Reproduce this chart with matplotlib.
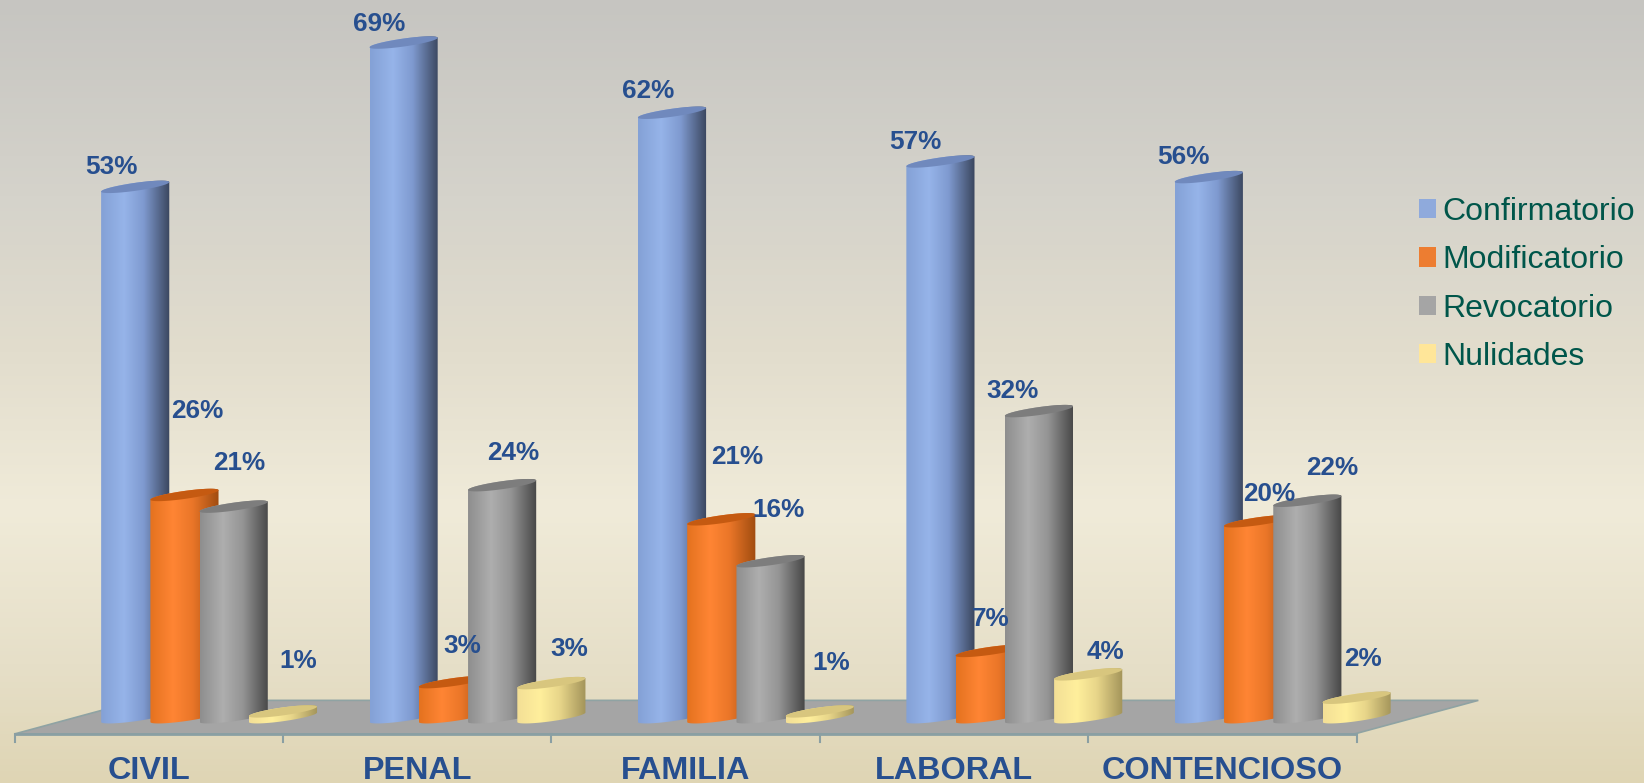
import numpy as np
import matplotlib
matplotlib.use('Agg')
import matplotlib.pyplot as plt
from matplotlib.colors import LinearSegmentedColormap
from matplotlib.patches import Polygon, Patch

plt.rcParams['font.family'] = ['Liberation Sans', 'DejaVu Sans']

categories = ['CIVIL', 'PENAL', 'FAMILIA', 'LABORAL', 'CONTENCIOSO']
series_names = ['Confirmatorio', 'Modificatorio', 'Revocatorio', 'Nulidades']

# bar heights
confirmatorio = [54.4, 69.2, 62.0, 57.0, 55.4]
modificatorio = [22.8, 3.6, 20.3, 6.8, 20.1]
revocatorio = [21.6, 23.8, 16.0, 31.4, 22.2]
nulidades = [0.6, 3.5, 0.6, 4.4, 2.0]

# printed labels
conf_labels = ['53%', '69%', '62%', '57%', '56%']
modi_labels = ['26%', '3%', '21%', '7%', '20%']
revo_labels = ['21%', '24%', '16%', '32%', '22%']
nuli_labels = ['1%', '3%', '1%', '4%', '2%']

# label centres in the 1568 wide picture
conf_xy = [(106, 159), (362, 23), (618, 87), (873, 135), (1129, 150)]
modi_xy = [(188, 392), (441, 616), (703, 436), (945, 590), (1211, 471)]
revo_xy = [(228, 442), (490, 432), (743, 486), (966, 373), (1271, 446)]
nuli_xy = [(284, 630), (543, 619), (793, 632), (1054, 622), (1300, 629)]

W, H = 1644, 783
K = W / 1568
PX_PER_PCT = 9.75
BASE_PX = 722
CAT_PX = 256 * K
X0_PX = 142 * K

# left, light, middle, right
body_colors = [
    ['#84a1d6', '#96b4e9', '#7f9ad0', '#3a465e'],
    ['#e4721f', '#ff8534', '#ea7628', '#a04c10'],
    ['#8e8e8e', '#aeaeae', '#959595', '#474747'],
    ['#f3df96', '#ffef9c', '#e8d68a', '#a3945a'],
]
top_colors = ['#7089bd', '#c55a11', '#7d7d7d', '#d8c67e']
legend_colors = ['#8faadc', '#ed7d31', '#a5a5a5', '#ffe699']
TEXT_BLUE = '#274f8f'
LEGEND_TEXT = '#00564a'

fig = plt.figure(figsize=(W / 100, H / 100), dpi=100)
ax = fig.add_axes([0, 0, 1, 1])
ax.set_axis_off()
xlim = (-X0_PX / CAT_PX, (W - X0_PX) / CAT_PX)
ylim = ((BASE_PX - H) / PX_PER_PCT, BASE_PX / PX_PER_PCT)

# background
bg = LinearSegmentedColormap.from_list('bg', [
    (0.0, '#c6c5c1'), (0.25, '#d5d3cb'), (0.45, '#e2ddcd'),
    (0.65, '#f0ebd9'), (0.85, '#e6dfc8'), (1.0, '#dfd5b4')])
ax.imshow(np.linspace(0, 1, 256).reshape(-1, 1), cmap=bg, aspect='auto',
          extent=(xlim[0], xlim[1], ylim[0], ylim[1]), origin='upper', zorder=0)


def px_to_data(x, y):
    return xlim[0] + x / W * (xlim[1] - xlim[0]), ylim[1] - y / H * (ylim[1] - ylim[0])


# floor and axis line
floor = [px_to_data(14 * K, 700 * K), px_to_data(132 * K, 668 * K),
         px_to_data(1410 * K, 668 * K), px_to_data(1292 * K, 700 * K)]
ax.add_patch(Polygon(floor, closed=True, fc='#a5a5a5', ec='#8fa3a3', lw=1.2, zorder=1))
ax.plot([floor[0][0], floor[3][0]], [floor[0][1], floor[3][1]], color='#8a9fa3', lw=2, zorder=2)
tick_y0 = floor[0][1]
tick_y1 = px_to_data(0, 708 * K)[1]
for i in range(len(categories) + 1):
    ax.plot([i - 0.5, i - 0.5], [tick_y0, tick_y1], color='#8a9fa3', lw=1.5, zorder=2)

# cylinders
half_w = 0.5 * 65 * K / CAT_PX
tilt = 9.5 / PX_PER_PCT
bulge = 4 / PX_PER_PCT
t = np.linspace(0, 2 * np.pi, 121)
all_series = [confirmatorio, modificatorio, revocatorio, nulidades]
z = 3
for i in range(len(categories)):
    for j, values in enumerate(all_series):
        value = values[i]
        cx = i - 0.051 + 0.1835 * j
        ex = cx + half_w * np.cos(t)
        tilt_y = tilt / 2 * (1 + np.cos(t))
        up = bulge * np.sin(t)
        upper = t <= np.pi
        # outline: upper arc of the top, lower arc of the base
        top_x, top_y = ex[upper], value + tilt_y[upper] + up[upper]
        bot_x, bot_y = ex[~upper], tilt_y[~upper] + up[~upper]
        outline = np.column_stack([np.r_[top_x, bot_x], np.r_[top_y, bot_y]])
        clip = Polygon(outline, closed=True, fc='none', ec='none', transform=ax.transData)
        ax.add_patch(clip)
        cmap = LinearSegmentedColormap.from_list('c%d' % j, [
            (0.0, body_colors[j][0]), (0.33, body_colors[j][1]),
            (0.62, body_colors[j][2]), (1.0, body_colors[j][3])])
        im = ax.imshow(np.linspace(0, 1, 128).reshape(1, -1), cmap=cmap, aspect='auto',
                       extent=(cx - half_w, cx + half_w, -2, value + 3),
                       interpolation='bilinear', zorder=z)
        im.set_clip_path(clip)
        ax.add_patch(Polygon(np.column_stack([ex, value + tilt_y + up]), closed=True,
                             fc=top_colors[j], ec='none', zorder=z + 0.5))
        z += 1

# value labels
for labels, places in zip([conf_labels, modi_labels, revo_labels, nuli_labels],
                          [conf_xy, modi_xy, revo_xy, nuli_xy]):
    for s, (x, y) in zip(labels, places):
        dx, dy = px_to_data(x * K, y * K)
        ax.text(dx, dy, s, color=TEXT_BLUE, fontsize=18.8, fontweight='bold',
                ha='center', va='center', zorder=100)

# category labels
cat_y = px_to_data(0, 735 * K)[1]
for i, name in enumerate(categories):
    ax.text(i, cat_y, name, color=TEXT_BLUE, fontsize=23.3, fontweight='bold',
            ha='center', va='center', zorder=100)

ax.set_xlim(xlim)
ax.set_ylim(ylim)

handles = [Patch(fc=c, ec='none', label=n) for c, n in zip(legend_colors, series_names)]
fig.legend(handles=handles, loc='upper left', bbox_to_anchor=(1353 * K / W, 1 - 188 * K / H),
           frameon=False, fontsize=23, labelcolor=LEGEND_TEXT, handlelength=0.54,
           handleheight=0.54, handletextpad=0.2, labelspacing=0.57, borderpad=0, borderaxespad=0)

fig.savefig('out.png', dpi=100)
